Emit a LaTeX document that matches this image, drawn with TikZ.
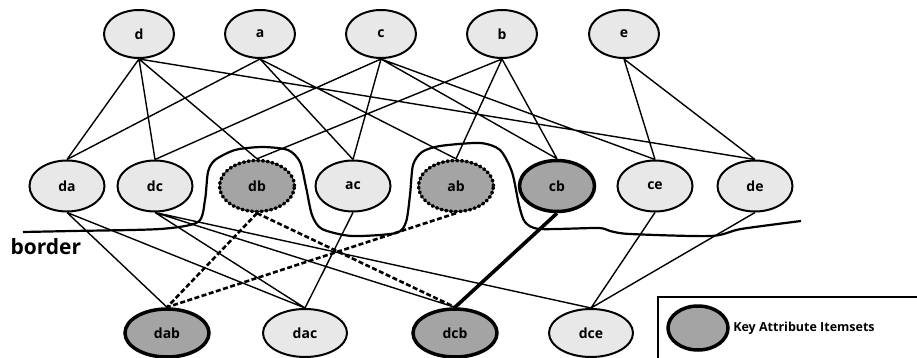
\documentclass[tikz,border=0pt]{standalone}
\usepackage{fontspec}
\setmainfont{Open Sans}
\usetikzlibrary{shapes.geometric}
\definecolor{litegray}{HTML}{E8E8E8}
\definecolor{keygray}{HTML}{A4A4A4}
\begin{document}
\begin{tikzpicture}[x=1pt,y=-1pt,
  item/.style={ellipse,draw,line width=2pt,fill=litegray,inner sep=0pt,font=\bfseries\fontsize{14}{14}\selectfont},
  top/.style={item,minimum width=70,minimum height=48},
  pair/.style={item,minimum width=75,minimum height=51},
  triple/.style={item,minimum width=84,minimum height=48},
  keyset/.style={fill=keygray,line width=3.5pt},
  cut/.style={fill=keygray,line width=3.4pt,dash pattern=on 1.4pt off 3.4pt,line cap=round},
  link/.style={line width=1.4pt},
  dlink/.style={line width=2.6pt,dash pattern=on 5pt off 2.5pt}]
\useasboundingbox (0,0) rectangle (917,358);
% itemsets
\node[top](d)at(139,34){d};
\node[top](a)at(260,34){a};
\node[top](c)at(381,34){c};
\node[top](b)at(502,34){b};
\node[top](e)at(624,34){e};
\node[pair](da)at(67,186){da};
\node[pair](dc)at(155,186){dc};
\node[pair,cut](db)at(257,186){db};
\node[pair](ac)at(353,186){ac};
\node[pair,cut](ab)at(456,186){ab};
\node[pair,keyset](cb)at(557,186){cb};
\node[pair](ce)at(655,186){ce};
\node[pair](de)at(755,186){de};
\node[triple,keyset](dab)at(167,333){dab};
\node[triple](dac)at(305,333){dac};
\node[triple,keyset](dcb)at(455,333){dcb};
\node[triple](dce)at(591,333){dce};
% level 1 -> level 2
\draw[link](d.south)--(da.north) (d.south)--(dc.north) (d.south)--(db.north) (d.south)--(de.north)
  (a.south)--(da.north) (a.south)--(ac.north) (a.south)--(ab.north)
  (c.south)--(dc.north) (c.south)--(ac.north) (c.south)--(cb.north) (c.south)--(ce.north)
  (b.south)--(db.north) (b.south)--(ab.north) (b.south)--(cb.north)
  (e.south)--(ce.north) (e.south)--(de.north);
% level 2 -> level 3
\draw[link](da.south)--(dab.north) (da.south)--(dac.north)
  (dc.south)--(dac.north) (dc.south)--(dcb.north) (dc.south)--(dce.north)
  (ac.south)--(dac.north) (ce.south)--(dce.north) (de.south)--(dce.north);
\draw[dlink](db.south)--(dab.north) (ab.south)--(dab.north) (db.south)--(dcb.north);
\draw[line width=3.6pt](cb.south)--(dcb.north);
% border
\draw[line width=2.2pt,line join=round]plot[smooth,tension=0.45]coordinates{(23,232)(72,231)(160,229)(198,222)(205,200)(208,172)(215,160)(235,150)(262,147)(288,150)(300,162)(306,187)(312,215)(322,229)(352,236)(396,233)(406,222)(410,195)(413,165)(422,152)(440,146)(480,143)(500,150)(512,172)(519,205)(525,222)(540,229)(598,228)(610,231)(630,234)(711,236)(741,229)(801,221)};
\node[font=\bfseries\fontsize{21}{21}\selectfont,anchor=west](brd)at(7,247){border};
% legend
\draw[line width=1.6pt](658,297)rectangle(918,360);
\node[item,keyset,minimum width=60,minimum height=44](key)at(698,328){};
\node[font=\bfseries\fontsize{12.5}{12.5}\selectfont,anchor=west](keytxt)at(key.east){Key Attribute Itemsets};
\end{tikzpicture}
\end{document}
